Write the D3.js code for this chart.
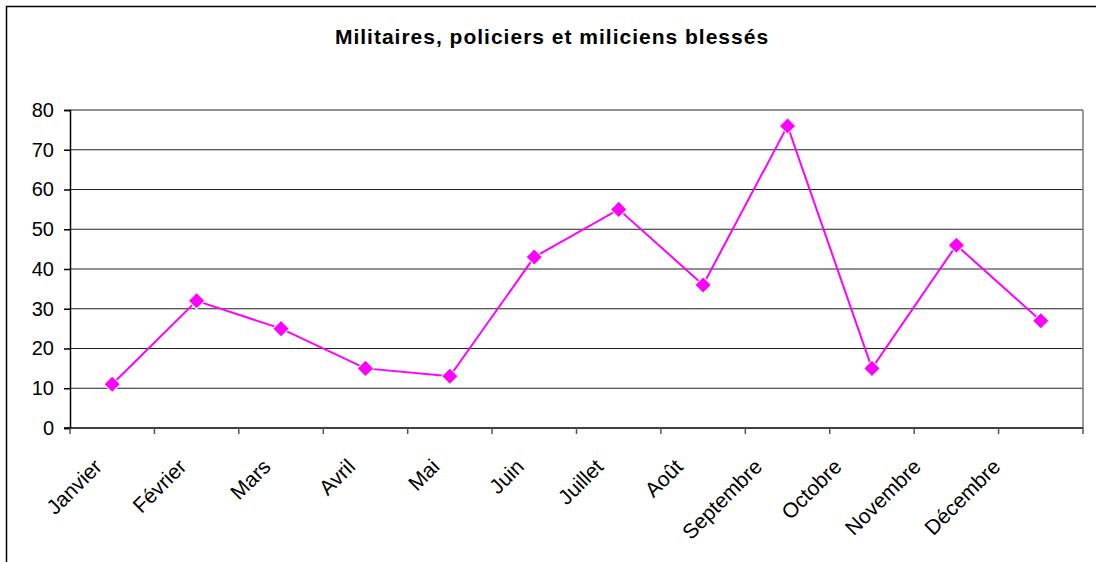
<!DOCTYPE html>
<html>
<head>
<meta charset="utf-8">
<script src="https://cdn.jsdelivr.net/npm/d3@7"></script>
<style>
  body { margin: 0; background: #fff; }
  svg { display: block; font-family: "Liberation Sans", Arial, sans-serif; }
</style>
</head>
<body>
<svg width="1096" height="562"></svg>
<script>
var months = ['Janvier', 'Février', 'Mars', 'Avril', 'Mai', 'Juin', 'Juillet', 'Août', 'Septembre', 'Octobre', 'Novembre', 'Décembre'];
var blesses = [11, 32, 25, 15, 13, 43, 55, 36, 76, 15, 46, 27];
var yTicks = [0, 10, 20, 30, 40, 50, 60, 70, 80];
var title = 'Militaires, policiers et miliciens blessés';

var svg = d3.select('svg');

// outer chart frame (right and bottom run past the picture)
svg.append('rect')
    .attr('x', 6.5)
    .attr('y', 6.5)
    .attr('width', 1120)
    .attr('height', 600)
    .attr('fill', 'none')
    .attr('stroke', '#000')
    .attr('stroke-width', 1.5);

svg.append('text')
    .attr('x', 552)
    .attr('y', 44)
    .attr('text-anchor', 'middle')
    .attr('font-size', 21)
    .attr('letter-spacing', 1)
    .attr('font-weight', 'bold')
    .text(title);

var plotLeft = 70, plotRight = 1083, plotTop = 110, plotBottom = 428;

var x = d3.scaleBand().domain(months).range([plotLeft, plotRight]);
var y = d3.scaleLinear().domain([0, 80]).range([plotBottom, plotTop]);

// gridlines
svg.selectAll('line.grid')
    .data(yTicks.slice(1))
    .enter()
    .append('line')
    .attr('class', 'grid')
    .attr('x1', plotLeft)
    .attr('x2', plotRight)
    .attr('y1', function(d){ return y(d); })
    .attr('y2', function(d){ return y(d); })
    .attr('stroke', '#222')
    .attr('stroke-width', 1);

// right edge of plot area
svg.append('line')
    .attr('x1', plotRight).attr('x2', plotRight)
    .attr('y1', plotTop).attr('y2', plotBottom)
    .attr('stroke', '#777')
    .attr('stroke-width', 1.5);

var yAxis = svg.append('g')
    .attr('transform', 'translate(' + plotLeft + ',0)')
    .call(d3.axisLeft(y).tickValues(yTicks).tickSize(6).tickPadding(10));
yAxis.select('.domain').attr('stroke', '#000').attr('stroke-width', 1.5);
yAxis.selectAll('.tick line').attr('stroke', '#000').attr('stroke-width', 1.5);
yAxis.selectAll('text').attr('font-size', 20).attr('fill', '#000')
    .attr('font-family', '"Liberation Sans", Arial, sans-serif');

// x axis: ticks sit between the months
var xAxis = svg.append('g')
    .attr('transform', 'translate(0,' + plotBottom + ')');
xAxis.append('line')
    .attr('x1', plotLeft - 6).attr('x2', plotRight)
    .attr('stroke', '#000').attr('stroke-width', 1.5);
xAxis.selectAll('line.tick')
    .data(months.concat(['end']))
    .enter()
    .append('line')
    .attr('class', 'tick')
    .attr('x1', function(d, i){ return plotLeft + i * x.bandwidth(); })
    .attr('x2', function(d, i){ return plotLeft + i * x.bandwidth(); })
    .attr('y1', 0)
    .attr('y2', 6)
    .attr('stroke', '#555')
    .attr('stroke-width', 1.5);

// the later labels drift left in the original
xAxis.selectAll('text')
    .data(months)
    .enter()
    .append('text')
    .attr('transform', function(d, i){
        var shift = -9 - Math.max(0, i - 5) * 5;
        return 'translate(' + (x(d) + x.bandwidth() / 2 + shift) + ',40) rotate(-45)';
    })
    .attr('text-anchor', 'end')
    .attr('font-size', 21)
    .attr('fill', '#000')
    .text(function(d){ return d; });

var line = d3.line()
    .x(function(d, i){ return x(months[i]) + x.bandwidth() / 2; })
    .y(function(d){ return y(d); });

svg.append('path')
    .datum(blesses)
    .attr('d', line)
    .attr('fill', 'none')
    .attr('stroke', '#ff00ff')
    .attr('stroke-width', 2);

svg.selectAll('path.marker')
    .data(blesses)
    .enter()
    .append('path')
    .attr('class', 'marker')
    .attr('d', d3.symbol().type(d3.symbolSquare).size(135))
    .attr('transform', function(d, i){
        return 'translate(' + (x(months[i]) + x.bandwidth() / 2) + ',' + y(d) + ') rotate(45)';
    })
    .attr('fill', '#ff00ff')
    .attr('stroke', '#fff')
    .attr('stroke-width', 1);
</script>
</body>
</html>
